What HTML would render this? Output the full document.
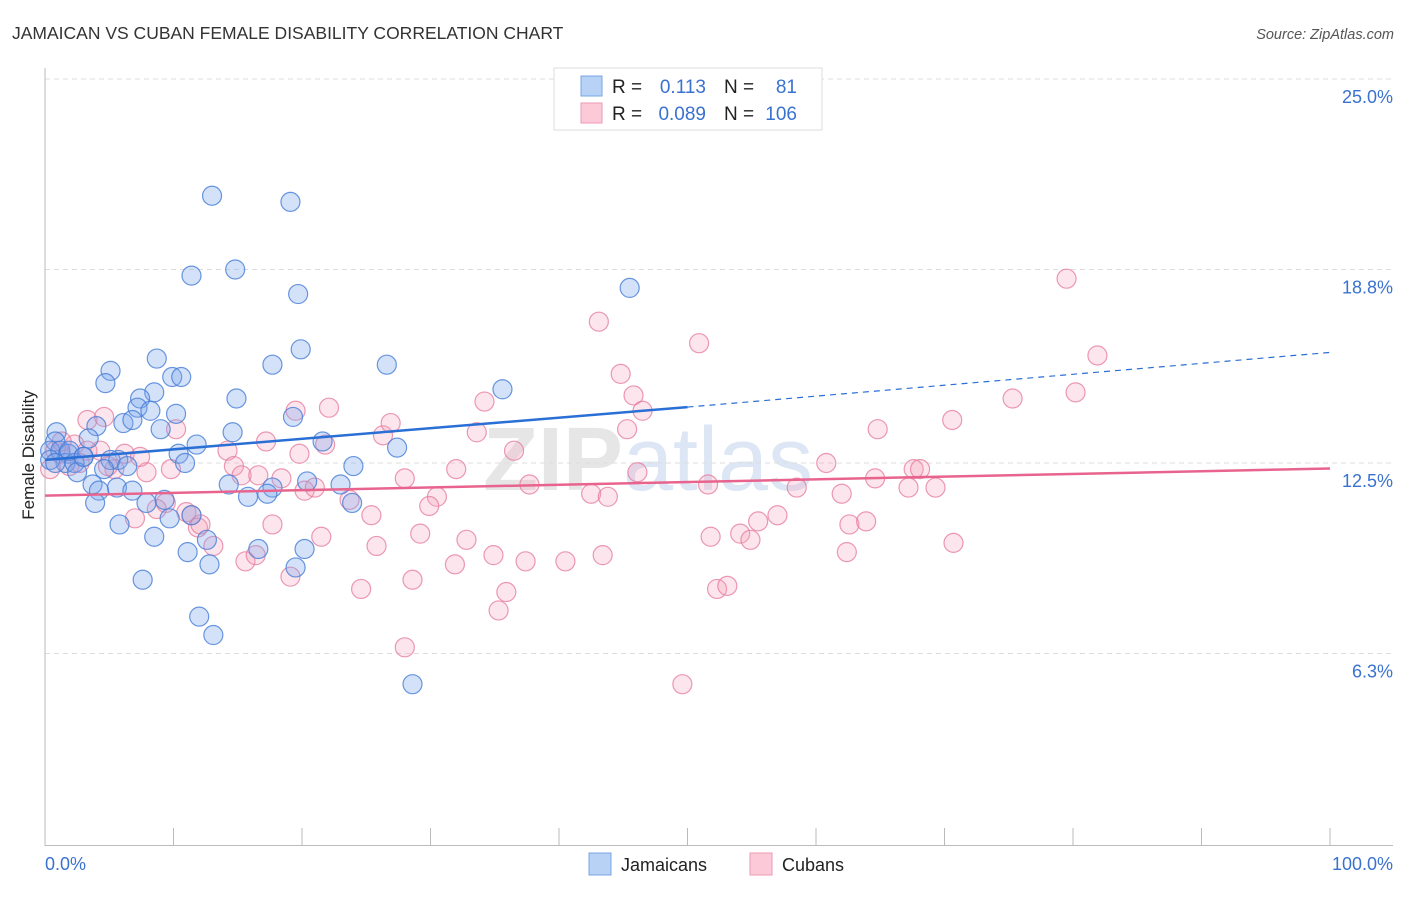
<!DOCTYPE html>
<html><head><meta charset="utf-8"><style>
body{margin:0;background:#fff;font-family:"Liberation Sans",sans-serif;}
svg text{font-family:"Liberation Sans",sans-serif;}
</style></head><body>
<svg id="chart" width="1406" height="892" xmlns="http://www.w3.org/2000/svg">
<text x="12" y="39" font-size="17.5" fill="#333">JAMAICAN VS CUBAN FEMALE DISABILITY CORRELATION CHART</text>
<text x="1394" y="39" font-size="14.5" fill="#555" font-style="italic" text-anchor="end">Source: ZipAtlas.com</text>
<text transform="translate(34,455) rotate(-90)" font-size="17" fill="#222" text-anchor="middle">Female Disability</text>
<text x="648" y="490" font-size="90" fill="#e6e6e6" font-weight="bold" text-anchor="middle">ZIP<tspan fill="#dde6f4" font-weight="normal">atlas</tspan></text>
<g id="grid"></g><g id="axes"></g><g id="pts"></g><g id="trend"></g>
<g>
<rect x="554" y="68" width="268" height="62" fill="#fff" stroke="#ddd"/>
<rect x="581" y="76" width="21" height="20" fill="#b8d2f5" stroke="#7aa6e6"/>
<rect x="581" y="103" width="21" height="20" fill="#fbc9d8" stroke="#ef9ab5"/>
<text x="612" y="93" font-size="19" fill="#222">R =</text>
<text x="706" y="93" font-size="19" fill="#3a72d0" text-anchor="end">0.113</text>
<text x="724" y="93" font-size="19" fill="#222">N =</text>
<text x="797" y="93" font-size="19" fill="#3a72d0" text-anchor="end">81</text>
<text x="612" y="120" font-size="19" fill="#222">R =</text>
<text x="706" y="120" font-size="19" fill="#3a72d0" text-anchor="end">0.089</text>
<text x="724" y="120" font-size="19" fill="#222">N =</text>
<text x="797" y="120" font-size="19" fill="#3a72d0" text-anchor="end">106</text>
</g>
<g>
<rect x="589" y="853" width="22" height="22" fill="#b8d2f5" stroke="#7aa6e6"/>
<text x="621" y="871" font-size="18" fill="#222">Jamaicans</text>
<rect x="750" y="853" width="22" height="22" fill="#fbc9d8" stroke="#ef9ab5"/>
<text x="782" y="871" font-size="18" fill="#222">Cubans</text>
</g>
</svg>
<script>
const yTicks=[25.0,18.8,12.5,6.3];
const yTickLabels=["25.0%","18.8%","12.5%","6.3%"];
const xTickLabels=["0.0%","100.0%"];
const blueX=[13.0,19.1,11.4,14.8,19.7,45.5,19.9,17.7,26.6,8.7,5.1,4.7,9.9,10.6,8.5,7.4,35.6,14.9,7.2,10.2,8.2,6.1,6.8,19.3,4.0,9.0,14.6,0.9,3.4,11.8,21.6,0.8,27.4,10.4,10.9,24.0,0.4,1.2,1.8,3.0,1.6,2.3,5.1,5.7,6.4,2.5,4.6,20.4,14.3,3.7,5.6,4.2,6.8,17.7,17.3,23.0,15.8,3.9,9.3,7.9,23.9,11.4,9.7,5.8,8.5,12.6,16.6,20.2,11.1,12.8,19.5,7.6,12.0,13.1,28.6,0.4,0.8,1.9,3.0];
const blueY=[21.2,21.0,18.6,18.8,18.0,18.2,16.2,15.7,15.7,15.9,15.5,15.1,15.3,15.3,14.8,14.6,14.9,14.6,14.3,14.1,14.2,13.8,13.9,14.0,13.7,13.6,13.5,13.5,13.3,13.1,13.2,13.2,13.0,12.8,12.5,12.4,12.9,12.9,12.8,12.7,12.5,12.5,12.6,12.6,12.4,12.2,12.3,11.9,11.8,11.8,11.7,11.6,11.6,11.7,11.5,11.8,11.4,11.2,11.3,11.2,11.2,10.8,10.7,10.5,10.1,10.0,9.7,9.7,9.6,9.2,9.1,8.7,7.5,6.9,5.3,12.6,12.5,12.9,12.7];
const pinkX=[79.5,81.9,43.1,50.9,44.8,45.8,80.2,75.3,34.2,19.5,22.1,46.5,70.6,64.8,26.3,26.9,33.6,45.3,10.2,3.3,4.6,17.2,21.8,19.8,14.2,36.5,60.8,32.0,46.1,67.6,68.1,64.6,9.8,14.7,7.9,15.3,18.4,16.6,28.0,20.2,21.0,37.7,42.5,43.8,51.6,58.5,62.0,67.2,69.3,30.5,23.7,29.9,9.4,11.0,8.7,11.4,25.4,7.0,17.7,11.9,12.1,62.6,63.9,55.5,57.0,13.1,25.8,29.2,21.5,32.8,34.9,37.4,40.5,43.4,51.8,54.1,54.9,62.4,70.7,31.9,15.6,16.4,19.1,28.6,24.6,35.9,35.3,52.3,53.1,28.0,49.6,0.4,1.2,2.3,3.3,4.3,5.4,6.2,1.9,0.8,1.3,2.7,7.4,4.9];
const pinkY=[18.5,16.0,17.1,16.4,15.4,14.7,14.8,14.6,14.5,14.2,14.3,14.2,13.9,13.6,13.4,13.8,13.5,13.6,13.6,13.9,14.0,13.2,13.1,12.8,12.9,12.9,12.5,12.3,12.2,12.3,12.3,12.0,12.3,12.4,12.2,12.1,12.0,12.1,12.0,11.6,11.7,11.8,11.5,11.4,11.8,11.7,11.5,11.7,11.7,11.4,11.3,11.1,11.2,10.9,11.0,10.8,10.8,10.7,10.5,10.4,10.5,10.5,10.6,10.6,10.8,9.8,9.8,10.2,10.1,10.0,9.5,9.3,9.3,9.5,10.1,10.2,10.0,9.6,9.9,9.2,9.3,9.5,8.8,8.7,8.4,8.3,7.7,8.4,8.5,6.5,5.3,12.3,12.8,13.1,12.9,12.9,12.3,12.8,12.4,12.9,13.2,12.5,12.7,12.4];
const blueTrendX=[0,50,100];
const blueTrendY=[12.6,14.32,16.1];
const pinkTrendX=[0,100];
const pinkTrendY=[11.44,12.32];

const NS="http://www.w3.org/2000/svg";
const X0=45,X1=1330,Y0=847,PXPER=30.72;
function sx(v){return X0+(X1-X0)*v/100;}
function sy(v){return Y0-v*PXPER;}
function mk(tag,attrs,parent){const e=document.createElementNS(NS,tag);for(const k in attrs)e.setAttribute(k,attrs[k]);document.getElementById(parent).appendChild(e);return e;}

yTicks.forEach((t,i)=>{
  const g=mk('line',{x1:45,x2:1393,y1:sy(t),y2:sy(t),stroke:'#ddd','stroke-dasharray':'5,4'},'grid');
  
  
  const l=mk('text',{x:1393,y:sy(t)+24,'font-size':18,fill:'#3a72d0','text-anchor':'end'},'grid');
  l.textContent=yTickLabels[i];
  
  
});
const ya=mk('line',{x1:45,x2:45,y1:68,y2:846,stroke:'#bbb'},'axes');


const xa=mk('line',{x1:45,x2:1393,y1:845.5,y2:845.5,stroke:'#bbb'},'axes');


for(let i=0;i<=10;i++){
  const t=mk('line',{x1:sx(i*10),x2:sx(i*10),y1:828,y2:845,stroke:'#bbb'},'axes');
  
  
}
const xl0=mk('text',{x:45,y:870,'font-size':18,fill:'#3a72d0'},'axes');
xl0.textContent=xTickLabels[0];


const xl1=mk('text',{x:1393,y:870,'font-size':18,fill:'#3a72d0','text-anchor':'end'},'axes');
xl1.textContent=xTickLabels[1];



pinkX.forEach((x,i)=>{
  const c=mk('circle',{cx:sx(x),cy:sy(pinkY[i]),r:9.5,fill:'rgba(244,160,185,0.28)',stroke:'rgba(230,120,155,0.75)','stroke-width':1.2},'pts');
  
  
});
blueX.forEach((x,i)=>{
  const c=mk('circle',{cx:sx(x),cy:sy(blueY[i]),r:9.5,fill:'rgba(120,165,235,0.32)',stroke:'rgba(70,125,215,0.8)','stroke-width':1.2},'pts');
  
  
});
const bs=mk('line',{x1:sx(blueTrendX[0]),y1:sy(blueTrendY[0]),x2:sx(blueTrendX[1]),y2:sy(blueTrendY[1]),stroke:'#2a6fd6','stroke-width':2.5},'trend');


const bd=mk('line',{x1:sx(blueTrendX[1]),y1:sy(blueTrendY[1]),x2:sx(blueTrendX[2]),y2:sy(blueTrendY[2]),stroke:'#2a6fd6','stroke-width':1.2,'stroke-dasharray':'6,5'},'trend');


const pl=mk('line',{x1:sx(pinkTrendX[0]),y1:sy(pinkTrendY[0]),x2:sx(pinkTrendX[1]),y2:sy(pinkTrendY[1]),stroke:'#e8648e','stroke-width':2.5},'trend');


</script>
</body></html>
